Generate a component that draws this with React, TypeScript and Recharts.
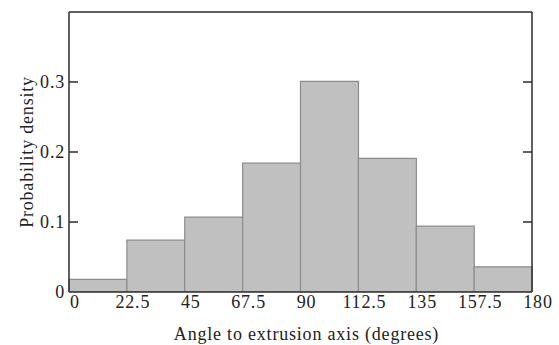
import { BarChart, Bar, XAxis, YAxis } from "recharts";

// bin edges (degrees) and probability density per bin
const binEdges = [0, 22.5, 45, 67.5, 90, 112.5, 135, 157.5, 180];
const density = [0.018, 0.074, 0.107, 0.184, 0.301, 0.191, 0.094, 0.036];
const yTicks = [0, 0.1, 0.2, 0.3];

const data = density.map((d, i) => ({
  mid: (binEdges[i] + binEdges[i + 1]) / 2,
  density: d,
}));

const axisColor = "#2b2b2b";
const textColor = "#222";
const font = { fontSize: 18, letterSpacing: 0.8 };
const TICK_LEN = 9;

// left axis: label plus an inward tick
function LeftTick(props: any) {
  const { x, y, payload } = props;
  const ax = x + 4;
  return (
    <g>
      {payload.value !== 0 && (
        <line x1={ax} x2={ax + TICK_LEN} y1={y} y2={y} stroke={axisColor} strokeWidth={1.5} />
      )}
      <text x={x} y={y} dy="0.35em" textAnchor="end" fill={textColor} {...font}>
        {payload.value}
      </text>
    </g>
  );
}

function TopTick(props: any) {
  const { x, y } = props;
  return <line x1={x} x2={x} y1={y} y2={y + TICK_LEN} stroke={axisColor} strokeWidth={1.5} />;
}

function RightTick(props: any) {
  const { x, y } = props;
  return <line x1={x - TICK_LEN} x2={x} y1={y} y2={y} stroke={axisColor} strokeWidth={1.5} />;
}

export default function App() {
  return (
    <div
      style={{
        position: "absolute",
        left: 0,
        top: 0,
        width: 559,
        height: 345,
        background: "#fff",
        fontFamily: "'Liberation Serif', 'Times New Roman', serif",
      }}
    >
      <BarChart
        width={559}
        height={345}
        data={data}
        barCategoryGap={0}
        barGap={0}
        margin={{ top: 11, right: 26, left: 0, bottom: 0 }}
      >
        <XAxis
          dataKey="mid"
          type="number"
          domain={[0, 180]}
          ticks={binEdges}
          interval={0}
          height={53}
          tickLine={false}
          tickSize={0}
          tickMargin={3}
          axisLine={{ stroke: axisColor, strokeWidth: 1.5 }}
          tick={{ fill: textColor, dx: 6, ...font }}
          label={{
            value: "Angle to extrusion axis (degrees)",
            position: "insideBottom",
            offset: 5,
            dx: 6,
            fill: textColor,
            ...font,
          }}
        />
        <XAxis
          xAxisId="top"
          orientation="top"
          type="number"
          domain={[0, 180]}
          ticks={binEdges.slice(1, -1)}
          interval={0}
          height={1}
          tickSize={0}
          tickMargin={0}
          tickLine={false}
          tick={<TopTick />}
          axisLine={{ stroke: axisColor, strokeWidth: 1.5 }}
        />
        <YAxis
          type="number"
          domain={[0, 0.4]}
          ticks={yTicks}
          interval={0}
          width={69}
          tickSize={0}
          tickMargin={4}
          tickLine={false}
          allowDataOverflow
          axisLine={{ stroke: axisColor, strokeWidth: 1.5 }}
          tick={<LeftTick />}
          label={{
            value: "Probability density",
            angle: -90,
            position: "center",
            dx: -8,
            fill: textColor,
            ...font,
          }}
        />
        <YAxis
          yAxisId="right"
          orientation="right"
          type="number"
          domain={[0, 0.4]}
          ticks={yTicks.slice(1)}
          interval={0}
          width={1}
          tickSize={0}
          tickMargin={0}
          tickLine={false}
          tick={<RightTick />}
          allowDataOverflow
          axisLine={{ stroke: axisColor, strokeWidth: 1.5 }}
        />
        <Bar
          dataKey="density"
          fill="#c0c0c0"
          stroke="#8c8c8c"
          strokeWidth={1.2}
          isAnimationActive={false}
        />
      </BarChart>
    </div>
  );
}
